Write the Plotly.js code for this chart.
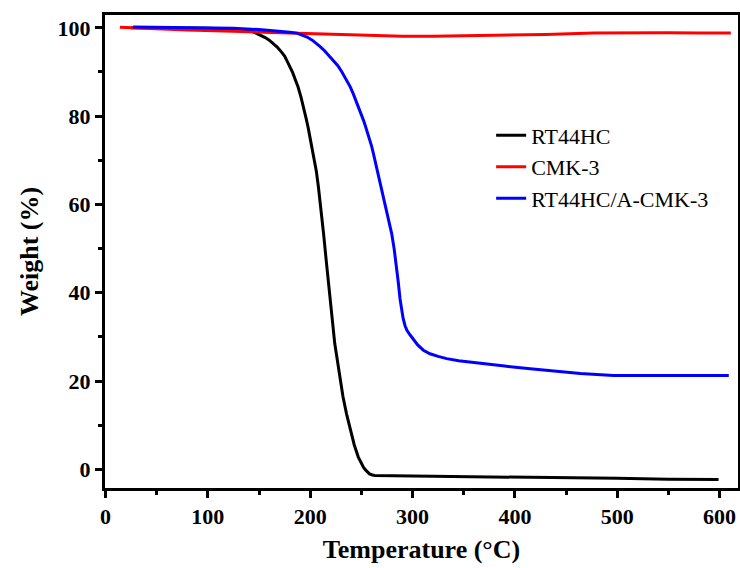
<!DOCTYPE html>
<html>
<head>
<meta charset="utf-8">
<script src="https://cdn.plot.ly/plotly-3.0.1.min.js"></script>
<style>html,body{margin:0;padding:0;background:#fff;}#chart{width:740px;height:568px;}</style>
</head>
<body>
<div id="chart"></div>
<script>
// RT44HC
const rtX = [25, 60, 100, 130, 140, 146, 151, 156, 160, 164, 168, 172, 175, 177, 180, 183, 186, 188, 191, 193, 196, 198, 200, 203, 206, 208, 211, 213, 216, 219, 222, 224, 226, 229, 232, 235.5, 239, 243, 247, 250, 252, 254, 256, 258, 260, 263, 300, 350, 389, 450, 500, 550, 599];
const rtY = [100.0, 100.0, 99.9, 99.7, 99.4, 98.9, 98.4, 97.8, 97.2, 96.5, 95.6, 94.5, 93.6, 92.7, 91.4, 89.8, 87.9, 86.7, 84.3, 82.6, 79.5, 77.4, 75.0, 71.6, 67.5, 64.0, 58.0, 53.5, 46.5, 39.5, 32.5, 28.5, 25.5, 20.8, 16.5, 12.6, 9.0, 5.6, 2.8, 1.3, 0.5, -0.1, -0.6, -1.0, -1.2, -1.35, -1.5, -1.6, -1.7, -1.9, -2.0, -2.2, -2.3];
// CMK-3
const cmkX = [14, 40, 80, 125, 160, 190, 220, 255, 290, 320, 350, 386, 430, 477, 520, 549, 580, 611];
const cmkY = [100.1, 99.8, 99.5, 99.2, 99.0, 98.8, 98.5, 98.3, 98.1, 98.1, 98.2, 98.3, 98.5, 98.8, 98.9, 98.9, 98.85, 98.8];
// RT44HC/A-CMK-3
const compX = [27, 60, 100, 125, 150, 170, 180, 187, 192, 197, 202, 206, 210, 214, 218, 222.5, 227, 231, 235, 239, 242, 245, 248, 250, 252, 254, 256, 258, 260, 262, 264, 266, 268, 270, 272, 274, 276.5, 279.6, 282, 284.4, 286, 287.8, 289.3, 290.7, 292.6, 294.5, 297.5, 300.7, 305, 310.6, 317, 325, 333.4, 345, 366, 390, 415, 440, 464, 480, 496.5, 529, 560, 609];
const compY = [100.2, 100.1, 100.0, 99.9, 99.6, 99.3, 99.0, 98.8, 98.4, 97.9, 97.2, 96.5, 95.7, 94.8, 93.8, 92.7, 91.4, 90.0, 88.5, 86.7, 85.1, 83.4, 81.6, 80.5, 79.1, 77.7, 76.3, 75.0, 73.2, 71.3, 69.3, 67.2, 65.1, 63.0, 61.0, 58.8, 56.4, 53.4, 50.0, 45.9, 42.5, 38.6, 36.0, 34.3, 32.6, 31.5, 30.5, 29.5, 28.2, 27.0, 26.2, 25.6, 25.1, 24.6, 24.0, 23.4, 22.8, 22.2, 21.7, 21.5, 21.3, 21.3, 21.3, 21.3];

const serif = '"Liberation Serif", "Times New Roman", Times, serif';
const traces = [
  {x: rtX, y: rtY, name: 'RT44HC', type: 'scatter', mode: 'lines', line: {color: '#000000', width: 3}},
  {x: cmkX, y: cmkY, name: 'CMK-3', type: 'scatter', mode: 'lines', line: {color: '#ff0000', width: 3}},
  {x: compX, y: compY, name: 'RT44HC/A-CMK-3', type: 'scatter', mode: 'lines', line: {color: '#0000ff', width: 3}}
];

const axisFont = {family: serif, size: 22, color: '#000'};
const layout = {
  width: 740, height: 568,
  margin: {l: 105, r: 2, t: 15, b: 80},
  paper_bgcolor: '#ffffff', plot_bgcolor: '#ffffff',
  font: {family: serif, color: '#000'},
  showlegend: true,
  legend: {x: 0.61, y: 0.79, xanchor: 'left', yanchor: 'top', bgcolor: 'rgba(0,0,0,0)',
           font: {family: serif, size: 22, color: '#000'}, tracegroupgap: 0},
  xaxis: {
    range: [-0.5, 618], showgrid: false, zeroline: false,
    showline: true, linecolor: '#000', linewidth: 3, mirror: true,
    ticks: 'outside', ticklen: 7, tickwidth: 3, tickcolor: '#000',
    tickvals: [0, 100, 200, 300, 400, 500, 600],
    ticktext: ['<b>0</b>', '<b>100</b>', '<b>200</b>', '<b>300</b>', '<b>400</b>', '<b>500</b>', '<b>600</b>'],
    tickfont: axisFont,
    minor: {tickvals: [50, 150, 250, 350, 450, 550], ticks: 'outside', ticklen: 4, tickwidth: 3, tickcolor: '#000', showgrid: false},
    title: {text: '<b>Temperature (°C)</b>', font: {family: serif, size: 26, color: '#000'}, standoff: 12}
  },
  yaxis: {
    range: [-4.2, 102.9], showgrid: false, zeroline: false,
    showline: true, linecolor: '#000', linewidth: 3, mirror: true,
    ticks: 'outside', ticklen: 7, tickwidth: 3, tickcolor: '#000',
    tickvals: [0, 20, 40, 60, 80, 100],
    ticktext: ['<b>0</b>', '<b>20</b>', '<b>40</b>', '<b>60</b>', '<b>80</b>', '<b>100</b>'],
    tickfont: axisFont,
    minor: {tickvals: [10, 30, 50, 70, 90], ticks: 'outside', ticklen: 4, tickwidth: 3, tickcolor: '#000', showgrid: false},
    title: {text: '<b>Weight (%)</b>', font: {family: serif, size: 26, color: '#000'}, standoff: 12}
  }
};

Plotly.newPlot('chart', traces, layout, {displayModeBar: false, staticPlot: true});
</script>
</body>
</html>
